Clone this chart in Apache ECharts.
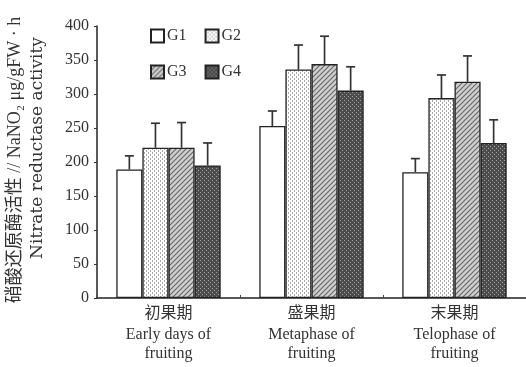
<!DOCTYPE html>
<html>
<head>
<meta charset="utf-8">
<script src="https://cdn.jsdelivr.net/npm/echarts@6/dist/echarts.min.js"></script>
<style>
html,body{margin:0;padding:0;background:#fff;}
#chart{width:526px;height:367px;}
</style>
</head>
<body>
<div id="chart"></div>
<script>
// ---- data ----
const categoriesCN = ['初果期', '盛果期', '末果期'];
const categoriesEN1 = ['Early days of', 'Metaphase of', 'Telophase of'];
const categoriesEN2 = ['fruiting', 'fruiting', 'fruiting'];
const seriesNames = ['G1', 'G2', 'G3', 'G4'];
const G1 = [189, 253, 185];
const G2 = [221, 336, 294];
const G3 = [221, 344, 318];
const G4 = [195, 305, 228];
const G1err = [20, 22, 20];
const G2err = [36, 36, 34];
const G3err = [37, 41, 38];
const G4err = [33, 35, 34];
const yTicks = [0, 50, 100, 150, 200, 250, 300, 350, 400];

const values = [G1, G2, G3, G4];
const errors = [G1err, G2err, G3err, G4err];
const categories = categoriesCN.map((c, i) => c + '\n' + categoriesEN1[i] + '\n' + categoriesEN2[i]);

// ---- patterns ----
function makePattern(kind) {
  const c = document.createElement('canvas');
  const s = kind === 'hatch' ? 5 : 4;
  c.width = s; c.height = s;
  const g = c.getContext('2d');
  if (kind === 'white') {
    g.fillStyle = '#fff'; g.fillRect(0, 0, s, s);
  } else if (kind === 'dots') {
    g.fillStyle = '#fff'; g.fillRect(0, 0, s, s);
    g.fillStyle = '#a8a8a8';
    g.fillRect(0, 0, 1, 2);
    g.fillRect(2, 2, 1, 2);
  } else if (kind === 'hatch') {
    g.fillStyle = '#cfcfcf'; g.fillRect(0, 0, s, s);
    g.strokeStyle = '#6a6a6a'; g.lineWidth = 1.2;
    g.beginPath();
    g.moveTo(0, s); g.lineTo(s, 0);
    g.moveTo(-1, 1); g.lineTo(1, -1);
    g.moveTo(s - 1, s + 1); g.lineTo(s + 1, s - 1);
    g.stroke();
  } else if (kind === 'dark') {
    g.fillStyle = '#4c4c4c'; g.fillRect(0, 0, s, s);
    g.fillStyle = '#a0a0a0';
    g.fillRect(0, 0, 1, 1);
    g.fillRect(2, 2, 1, 1);
  }
  return { image: c, repeat: 'repeat' };
}
const fills = [makePattern('white'), makePattern('dots'), makePattern('hatch'), makePattern('dark')];

const gapPct = 0.27;
const serif = '"Liberation Serif", "DejaVu Serif", "Noto Sans CJK SC", serif';
const wideSerif = '"DejaVu Serif", "Liberation Serif", "Noto Sans CJK SC", serif';

const barSeries = seriesNames.map((name, i) => ({
  name: name,
  type: 'bar',
  data: values[i],
  barGap: '0%',
  barCategoryGap: (gapPct * 100) + '%',
  itemStyle: { color: fills[i], borderColor: '#222', borderWidth: 1.3 },
  emphasis: { disabled: true },
  z: 2
}));

const errSeries = seriesNames.map((name, i) => ({
  name: name + '_err',
  type: 'custom',
  data: values[i].map((v, k) => [k, v, errors[i][k]]),
  encode: { x: 0, y: 1 },
  z: 1,
  silent: true,
  renderItem: function (params, api) {
    const k = api.value(0), v = api.value(1), e = api.value(2);
    const bw = api.size([1, 0])[0];
    const barW = bw * (1 - gapPct) / 4;
    const base = api.coord([k, v]);
    const top = api.coord([k, v + e]);
    const x = base[0] + (i - 1.5) * barW;
    const cap = 4.5;
    return {
      type: 'group',
      children: [
        { type: 'line', shape: { x1: x, y1: base[1], x2: x, y2: top[1] }, style: { stroke: '#333', lineWidth: 1.7 } },
        { type: 'line', shape: { x1: x - cap, y1: top[1], x2: x + cap, y2: top[1] }, style: { stroke: '#333', lineWidth: 1.7 } }
      ]
    };
  }
}));

const legendCommon = {
  left: 150, padding: 0, itemWidth: 13, itemHeight: 13, itemGap: 18, icon: 'rect',
  textStyle: { fontFamily: serif, fontSize: 16, color: '#333', padding: [0, 0, 0, -2] },
  selectedMode: false
};

const chart = echarts.init(document.getElementById('chart'), null, { renderer: 'canvas' });
chart.setOption({
  backgroundColor: '#fff',
  animation: false,
  textStyle: { fontFamily: serif, color: '#333' },
  grid: { left: 97, right: 0, top: 26, bottom: 69, containLabel: false },
  legend: [
    Object.assign({ data: ['G1', 'G2'], top: 28 }, legendCommon),
    Object.assign({ data: ['G3', 'G4'], top: 64 }, legendCommon)
  ],
  xAxis: {
    type: 'category',
    data: categories,
    axisLine: { lineStyle: { color: '#222', width: 1.5 } },
    axisTick: { show: true, inside: true, length: 3, lineStyle: { color: '#444' } },
    axisLabel: {
      margin: 5,
      interval: 0,
      formatter: function (val) {
        const p = val.split('\n');
        return '{c|' + p[0] + '}\n{e|' + p[1] + '}\n{e|' + p[2] + '}';
      },
      rich: {
        c: { fontFamily: serif, fontSize: 16, lineHeight: 22, color: '#333' },
        e: { fontFamily: serif, fontSize: 16, lineHeight: 19, color: '#333' }
      }
    }
  },
  yAxis: {
    type: 'value',
    min: yTicks[0],
    max: yTicks[yTicks.length - 1],
    interval: yTicks[1] - yTicks[0],
    splitLine: { show: false },
    axisLine: { show: true, lineStyle: { color: '#222', width: 1.5 } },
    axisTick: { show: true, length: 3, lineStyle: { color: '#333' } },
    axisLabel: { fontFamily: serif, fontSize: 16, color: '#333', margin: 8 }
  },
  graphic: [
    {
      type: 'text', x: 15, y: 160, rotation: Math.PI / 2,
      style: {
        text: '硝酸还原酶活性 // NaNO\u2082 μg/gFW · h',
        fontFamily: serif, fontSize: 18, fill: '#333',
        align: 'center', verticalAlign: 'middle'
      }
    },
    {
      type: 'text', x: 38, y: 148, rotation: Math.PI / 2,
      style: {
        text: 'Nitrate reductase activity',
        fontFamily: wideSerif, fontSize: 17, fill: '#333',
        align: 'center', verticalAlign: 'middle'
      }
    }
  ],
  series: barSeries.concat(errSeries)
});
</script>
</body>
</html>
